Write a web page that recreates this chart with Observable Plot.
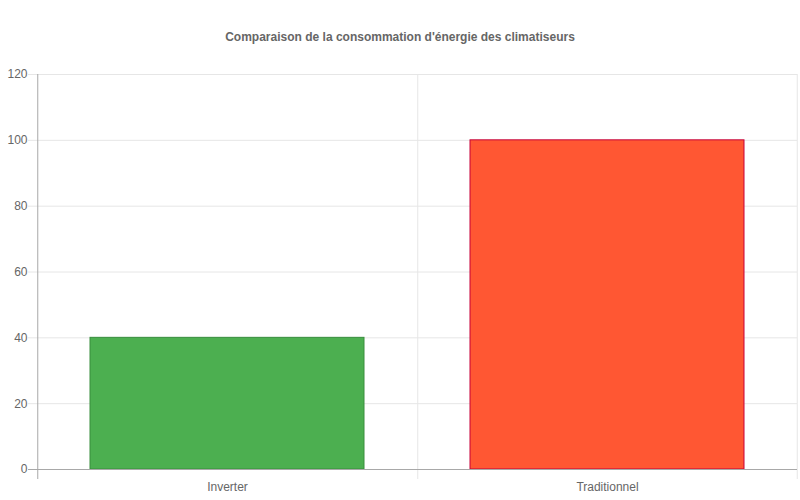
<!DOCTYPE html>
<html>
<head>
<meta charset="utf-8">
<script src="https://cdn.jsdelivr.net/npm/d3@7"></script>
<script src="https://cdn.jsdelivr.net/npm/@observablehq/plot@0.6"></script>
<style>
  html, body { margin: 0; padding: 0; background: #fff; }
  body { width: 800px; height: 500px; overflow: hidden; font-family: "Liberation Sans", Arial, sans-serif; }
  #title { height: 30px; padding-top: 30px; line-height: 14px; text-align: center; font-size: 12px; font-weight: bold; color: #666; }
</style>
</head>
<body>
<div id="title">Comparaison de la consommation d'énergie des climatiseurs</div>
<div id="chart"></div>
<script>
const categories = ["Inverter", "Traditionnel"];
const consumption = [40, 100];
const fills = ["#4CAF50", "#FF5733"];
const strokes = ["#388E3C", "#C70039"];
const yTicks = [0, 20, 40, 60, 80, 100, 120];

const data = categories.map((c, i) => ({category: c, value: consumption[i], fill: fills[i], stroke: strokes[i]}));

const W = 800, H = 440, ML = 36, MR = 3, MT = 14, MB = 31;
const step = (W - ML - MR) / categories.length;

const chart = Plot.plot({
  width: W,
  height: H,
  marginLeft: ML,
  marginRight: MR,
  marginTop: MT,
  marginBottom: MB,
  style: {fontFamily: "Liberation Sans, Arial, sans-serif", fontSize: "12px", color: "#666", background: "#fff"},
  x: {domain: categories, paddingInner: 0.28, paddingOuter: 0.14, label: null},
  y: {domain: [0, 120], label: null},
  marks: [
    Plot.ruleY(yTicks.filter(d => d > 0), {y: d => d, stroke: "#e6e6e6", strokeOpacity: 1, insetLeft: -8}),
    Plot.ruleX([categories[0]], {x: d => d, y1: 120, y2: 0, dx: step / 2, stroke: "#e6e6e6", insetBottom: -10}),
    Plot.ruleX([categories[categories.length - 1]], {x: d => d, y1: 120, y2: 0, dx: step / 2 - 0.5, stroke: "#e6e6e6", insetBottom: -10}),
    Plot.ruleX([categories[0]], {x: d => d, y1: 120, y2: 0, dx: -step / 2 + 0.5, stroke: "#a8a8a8", insetBottom: -10}),
    Plot.barY(data, {x: "category", y: "value", fill: d => d.fill, stroke: d => d.stroke, strokeWidth: 1}),
    Plot.ruleY([0], {stroke: "#a8a8a8", insetLeft: -8}),
    Plot.axisY({ticks: yTicks, tickSize: 0, tickPadding: 9, fill: "#666", fontSize: 12}),
    Plot.axisX({tickSize: 0, tickPadding: 13, fill: "#666", fontSize: 12})
  ]
});
document.getElementById("chart").appendChild(chart);
</script>
</body>
</html>
